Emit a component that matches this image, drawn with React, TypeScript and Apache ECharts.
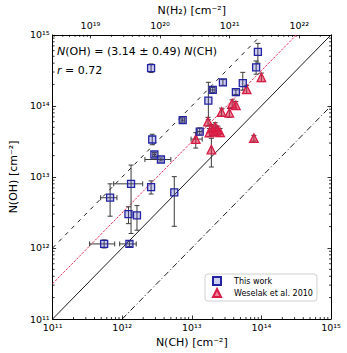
import React, { useEffect, useRef } from 'react';
import * as echarts from 'echarts';

// ---- This work (blue squares) ----
const thisWorkCH = [8.9e13, 8.4e13, 2.6e12, 2.8e13, 5.4e13, 2.0e13, 4.3e13, 1.73e13, 7.4e12, 1.3e13, 2.7e12, 2.9e12, 3.6e12, 1.34e12, 2.6e12, 5.6e12, 6.7e11, 1.23e12, 1.63e12, 5.5e11, 1.27e12];
const thisWorkOH = [5.75e14, 3.5e14, 3.4e14, 2.15e14, 2.1e14, 1.68e14, 1.56e14, 1.19e14, 6.3e13, 4.36e13, 3.37e13, 2.07e13, 1.76e13, 8.0e12, 7.2e12, 6.05e12, 5.1e12, 3.0e12, 2.87e12, 1.14e12, 1.14e12];
const thisWorkCHlo = [8.9e13, 8.4e13, 2.6e12, 2.8e13, 5.4e13, 1.85e13, 4.3e13, 1.73e13, 7.0e12, 1.2e13, 2.7e12, 2.75e12, 2.12e12, 7.55e11, 2.6e12, 5.6e12, 4.9e11, 1.23e12, 1.63e12, 3.4e11, 9.2e11];
const thisWorkCHhi = [8.9e13, 8.4e13, 2.6e12, 2.8e13, 5.4e13, 2.15e13, 4.3e13, 1.73e13, 7.9e12, 1.4e13, 2.7e12, 3.05e12, 5.0e12, 1.97e12, 2.6e12, 5.6e12, 8.4e11, 1.23e12, 1.63e12, 7.8e11, 1.59e12];
const thisWorkOHlo = [4.0e14, 2.8e14, 2.95e14, 1.95e14, 1.67e14, 1.55e14, 1.45e14, 6.4e13, 5.9e13, 3.9e13, 2.84e13, 1.95e13, 1.68e13, 1.6e12, 5.75e12, 2.02e12, 2.8e12, 2.2e12, 1.78e12, 1.0e12, 1.05e12];
const thisWorkOHhi = [7.6e14, 4.3e14, 3.9e14, 2.35e14, 2.97e14, 1.82e14, 1.68e14, 2.15e14, 6.8e13, 4.9e13, 3.99e13, 2.2e13, 1.85e13, 1.47e13, 8.8e12, 1.01e13, 8.0e12, 3.8e12, 3.95e12, 1.3e12, 1.25e12];

// ---- Weselak et al. 2010 (red triangles) ----
const weselakCH = [1.0e14, 6.15e13, 3.8e13, 4.3e13, 3.46e13, 2.68e13, 1.71e13, 2.17e13, 1.91e13, 2.36e13, 1.79e13, 2.12e13, 2.55e13, 1.14e13, 1.91e13, 7.8e13];
const weselakOH = [2.53e14, 1.71e14, 1.08e14, 1.02e14, 8.0e13, 8.2e13, 6.0e13, 5.1e13, 4.84e13, 4.6e13, 4.22e13, 4.35e13, 4.26e13, 3.41e13, 2.43e13, 3.52e13];
const weselakCHlo = [1.0e14, 6.15e13, 3.8e13, 4.3e13, 3.46e13, 2.68e13, 1.71e13, 2.17e13, 1.91e13, 2.36e13, 1.79e13, 2.12e13, 2.55e13, 9.75e12, 1.91e13, 7.8e13];
const weselakCHhi = [1.0e14, 6.15e13, 3.8e13, 4.3e13, 3.46e13, 2.68e13, 1.71e13, 2.17e13, 1.91e13, 2.36e13, 1.79e13, 2.12e13, 2.55e13, 1.41e13, 1.91e13, 7.8e13];
const weselakOHlo = [2.2e14, 1.5e14, 0.95e14, 0.9e14, 6.9e13, 7.2e13, 5.2e13, 4.4e13, 4.2e13, 4.0e13, 3.7e13, 3.8e13, 3.7e13, 2.55e13, 1.38e13, 3.2e13];
const weselakOHhi = [2.9e14, 1.95e14, 1.22e14, 1.15e14, 9.2e13, 9.3e13, 6.9e13, 5.8e13, 5.5e13, 5.2e13, 4.8e13, 4.9e13, 4.8e13, 4.2e13, 3.5e13, 3.85e13];

// ---- reference relations (endpoints) ----
const oneToOne = [[1e11, 1e11], [1e15, 1e15]];
const tenToOne = [[1e11, 1e12], [1e14, 1e15]];
const oneToTen = [[1e12, 1e11], [1e15, 1e14]];
const fitLine = [[1e11, 3.14e11], [1e15 / 3.14, 1e15]];

// ---- axes ----
const axisMin = 1e11;
const axisMax = 1e15;
const chToH2 = 3.5e-8;
const supDigits: Record<string, string> = { '0': '⁰', '1': '¹', '2': '²', '3': '³', '4': '⁴', '5': '⁵', '6': '⁶', '7': '⁷', '8': '⁸', '9': '⁹', '-': '⁻' };

const FONT = 'DejaVu Sans';

function decadeLabel(v: number): string {
  const l = Math.log10(v);
  const r = Math.round(l);
  if (Math.abs(l - r) > 1e-3) return '';
  return '10' + String(r).split('').map((c) => supDigits[c]).join('');
}

function minorValues(lo: number, hi: number): number[] {
  const out: number[] = [];
  for (let e = Math.floor(Math.log10(lo)) - 1; e <= Math.ceil(Math.log10(hi)); e++) {
    for (let k = 2; k <= 9; k++) {
      const v = k * Math.pow(10, e);
      if (v > lo && v < hi) out.push(v);
    }
  }
  return out;
}

function zip(a: number[][]): number[][] {
  return a[0].map((_, i) => a.map((arr) => arr[i]));
}

const errStyle = { stroke: '#3a3a3a', lineWidth: 1 };

function errRender(params: any, api: any) {
  const x = api.value(0), y = api.value(1);
  const xlo = api.value(2), xhi = api.value(3), ylo = api.value(4), yhi = api.value(5);
  const c = api.coord([x, y]);
  const cap = 2.5;
  const ch: any[] = [];
  if (ylo !== yhi) {
    const a = api.coord([x, ylo]);
    const b = api.coord([x, yhi]);
    ch.push({ type: 'line', shape: { x1: c[0], y1: a[1], x2: c[0], y2: b[1] }, style: errStyle });
    ch.push({ type: 'line', shape: { x1: c[0] - cap, y1: a[1], x2: c[0] + cap, y2: a[1] }, style: errStyle });
    ch.push({ type: 'line', shape: { x1: c[0] - cap, y1: b[1], x2: c[0] + cap, y2: b[1] }, style: errStyle });
  }
  if (xlo !== xhi) {
    const a = api.coord([xlo, y]);
    const b = api.coord([xhi, y]);
    ch.push({ type: 'line', shape: { x1: a[0], y1: c[1], x2: b[0], y2: c[1] }, style: errStyle });
    ch.push({ type: 'line', shape: { x1: a[0], y1: c[1] - cap, x2: a[0], y2: c[1] + cap }, style: errStyle });
    ch.push({ type: 'line', shape: { x1: b[0], y1: c[1] - cap, x2: b[0], y2: c[1] + cap }, style: errStyle });
  }
  return { type: 'group', children: ch };
}

const tickStyle = { stroke: '#000', lineWidth: 0.8 };
const MINOR = 2;

function minorXBottom(params: any, api: any) {
  const cs = params.coordSys;
  const p = api.coord([api.value(0), api.value(1)]);
  const yb = cs.y + cs.height;
  return { type: 'line', shape: { x1: p[0], y1: yb, x2: p[0], y2: yb - MINOR }, style: tickStyle };
}
function minorXTop(params: any, api: any) {
  const cs = params.coordSys;
  const p = api.coord([api.value(0), api.value(1)]);
  return { type: 'line', shape: { x1: p[0], y1: cs.y, x2: p[0], y2: cs.y + MINOR }, style: tickStyle };
}
function minorY(params: any, api: any) {
  const cs = params.coordSys;
  const p = api.coord([api.value(0), api.value(1)]);
  return {
    type: 'group',
    children: [
      { type: 'line', shape: { x1: cs.x, y1: p[1], x2: cs.x + MINOR, y2: p[1] }, style: tickStyle },
      { type: 'line', shape: { x1: cs.x + cs.width, y1: p[1], x2: cs.x + cs.width - MINOR, y2: p[1] }, style: tickStyle },
    ],
  };
}

export default function App() {
  const ref = useRef<HTMLDivElement>(null);
  useEffect(() => {
    if (!ref.current) return;
    const chart = echarts.init(ref.current, undefined, { renderer: 'svg' });
    const blueData = zip([thisWorkCH, thisWorkOH]);
    const redData = zip([weselakCH, weselakOH]);
    const blueErr = zip([thisWorkCH, thisWorkOH, thisWorkCHlo, thisWorkCHhi, thisWorkOHlo, thisWorkOHhi]);
    const redErr = zip([weselakCH, weselakOH, weselakCHlo, weselakCHhi, weselakOHlo, weselakOHhi]);
    const minorMain = minorValues(axisMin, axisMax);
    const topMin = axisMin / chToH2;
    const topMax = axisMax / chToH2;
    const minorTop = minorValues(topMin, topMax);

    const axisLine = { show: true, lineStyle: { color: '#000', width: 1 } };
    const axisTick = { show: true, inside: true, length: 3.5, lineStyle: { color: '#000', width: 0.8 } };
    const labelStyle = { fontFamily: FONT, fontSize: 9.5, color: '#000' };
    const nameStyle = { fontFamily: FONT, fontSize: 11, color: '#000' };

    chart.setOption({
      animation: false,
      backgroundColor: '#fff',
      grid: { left: 43, top: 32, right: 16, bottom: 34 },
      legend: {
        data: ['This work', 'Weselak et al. 2010'],
        orient: 'vertical',
        left: 205,
        top: 274,
        itemWidth: 8,
        itemHeight: 8,
        itemGap: 2,
        padding: [2, 4, 3, 7],
        backgroundColor: '#fff',
        borderColor: '#d0d0d0',
        borderWidth: 1,
        borderRadius: 3,
        formatter: (name: string) => '{g|}' + name,
        textStyle: {
          fontFamily: FONT, fontSize: 8, color: '#000', lineHeight: 10,
          rich: { g: { width: 8 } },
        },
      },
      xAxis: [
        {
          type: 'log', min: axisMin, max: axisMax, position: 'bottom',
          name: 'N(CH) [cm⁻²]', nameLocation: 'middle', nameGap: 15, nameTextStyle: nameStyle,
          axisLine, axisTick, splitLine: { show: false },
          axisLabel: { ...labelStyle, margin: 3, formatter: decadeLabel, showMinLabel: true, showMaxLabel: true },
        },
        {
          type: 'log', min: topMin, max: topMax, position: 'top',
          name: 'N(H₂) [cm⁻²]', nameLocation: 'middle', nameGap: 17, nameTextStyle: nameStyle,
          axisLine, axisTick, splitLine: { show: false },
          axisLabel: { ...labelStyle, margin: 4, formatter: decadeLabel },
        },
      ],
      yAxis: [
        {
          type: 'log', min: axisMin, max: axisMax, position: 'left',
          name: 'N(OH) [cm⁻²]', nameLocation: 'middle', nameGap: 25, nameTextStyle: nameStyle,
          axisLine, axisTick, splitLine: { show: false },
          axisLabel: { ...labelStyle, margin: 3, formatter: decadeLabel },
        },
        {
          type: 'log', min: axisMin, max: axisMax, position: 'right',
          axisLine, axisTick, splitLine: { show: false },
          axisLabel: { show: false },
        },
      ],
      graphic: [
        {
          type: 'text', left: 57, top: 46,
          style: {
            text: '{i|N}(OH) = (3.14 ± 0.49) {i|N}(CH)',
            font: `11px "${FONT}"`, fill: '#000',
            rich: { i: { fontStyle: 'italic', fontFamily: FONT, fontSize: 11, fill: '#000' } },
          },
        },
        {
          type: 'text', left: 57, top: 64.5,
          style: {
            text: '{i|r} = 0.72',
            font: `11px "${FONT}"`, fill: '#000',
            rich: { i: { fontStyle: 'italic', fontFamily: FONT, fontSize: 11, fill: '#000' } },
          },
        },
      ],
      series: [
        { type: 'custom', xAxisIndex: 0, yAxisIndex: 0, silent: true, renderItem: minorXBottom, data: minorMain.map((v) => [v, axisMin]), encode: { x: 0, y: 1 }, z: 1 },
        { type: 'custom', xAxisIndex: 0, yAxisIndex: 0, silent: true, renderItem: minorY, data: minorMain.map((v) => [axisMin, v]), encode: { x: 0, y: 1 }, z: 1 },
        { type: 'custom', xAxisIndex: 1, yAxisIndex: 0, silent: true, renderItem: minorXTop, data: minorTop.map((v) => [v, axisMin]), encode: { x: 0, y: 1 }, z: 1 },
        { type: 'line', data: oneToOne, symbol: 'none', silent: true, lineStyle: { color: '#000', width: 0.9 }, z: 2 },
        { type: 'line', data: tenToOne, symbol: 'none', silent: true, lineStyle: { color: '#000', width: 0.9, type: [4, 5] }, z: 2 },
        { type: 'line', data: oneToTen, symbol: 'none', silent: true, lineStyle: { color: '#000', width: 0.9, type: [6, 2.5, 1, 2.5] }, z: 2 },
        { type: 'line', data: fitLine, symbol: 'none', silent: true, lineStyle: { color: '#e8305a', width: 1, type: [2.5, 1.3] }, z: 2 },
        { type: 'custom', silent: true, renderItem: errRender, data: redErr, encode: { x: 0, y: 1 }, z: 3 },
        { type: 'custom', silent: true, renderItem: errRender, data: blueErr, encode: { x: 0, y: 1 }, z: 3 },
        {
          name: 'Weselak et al. 2010', type: 'scatter', data: redData, symbol: 'triangle', symbolSize: 8.5,
          itemStyle: { color: 'rgba(225,30,65,0.55)', borderColor: '#d81b45', borderWidth: 1.3, opacity: 1 }, z: 4,
        },
        {
          name: 'This work', type: 'scatter', data: blueData, symbol: 'rect', symbolSize: 7,
          itemStyle: { color: 'rgba(60,60,200,0.25)', borderColor: '#2323a3', borderWidth: 1.3, opacity: 1 }, z: 5,
        },
      ],
    });
    return () => chart.dispose();
  }, []);
  return <div ref={ref} style={{ width: 347, height: 353, position: 'absolute', left: 0, top: 0 }} />;
}
